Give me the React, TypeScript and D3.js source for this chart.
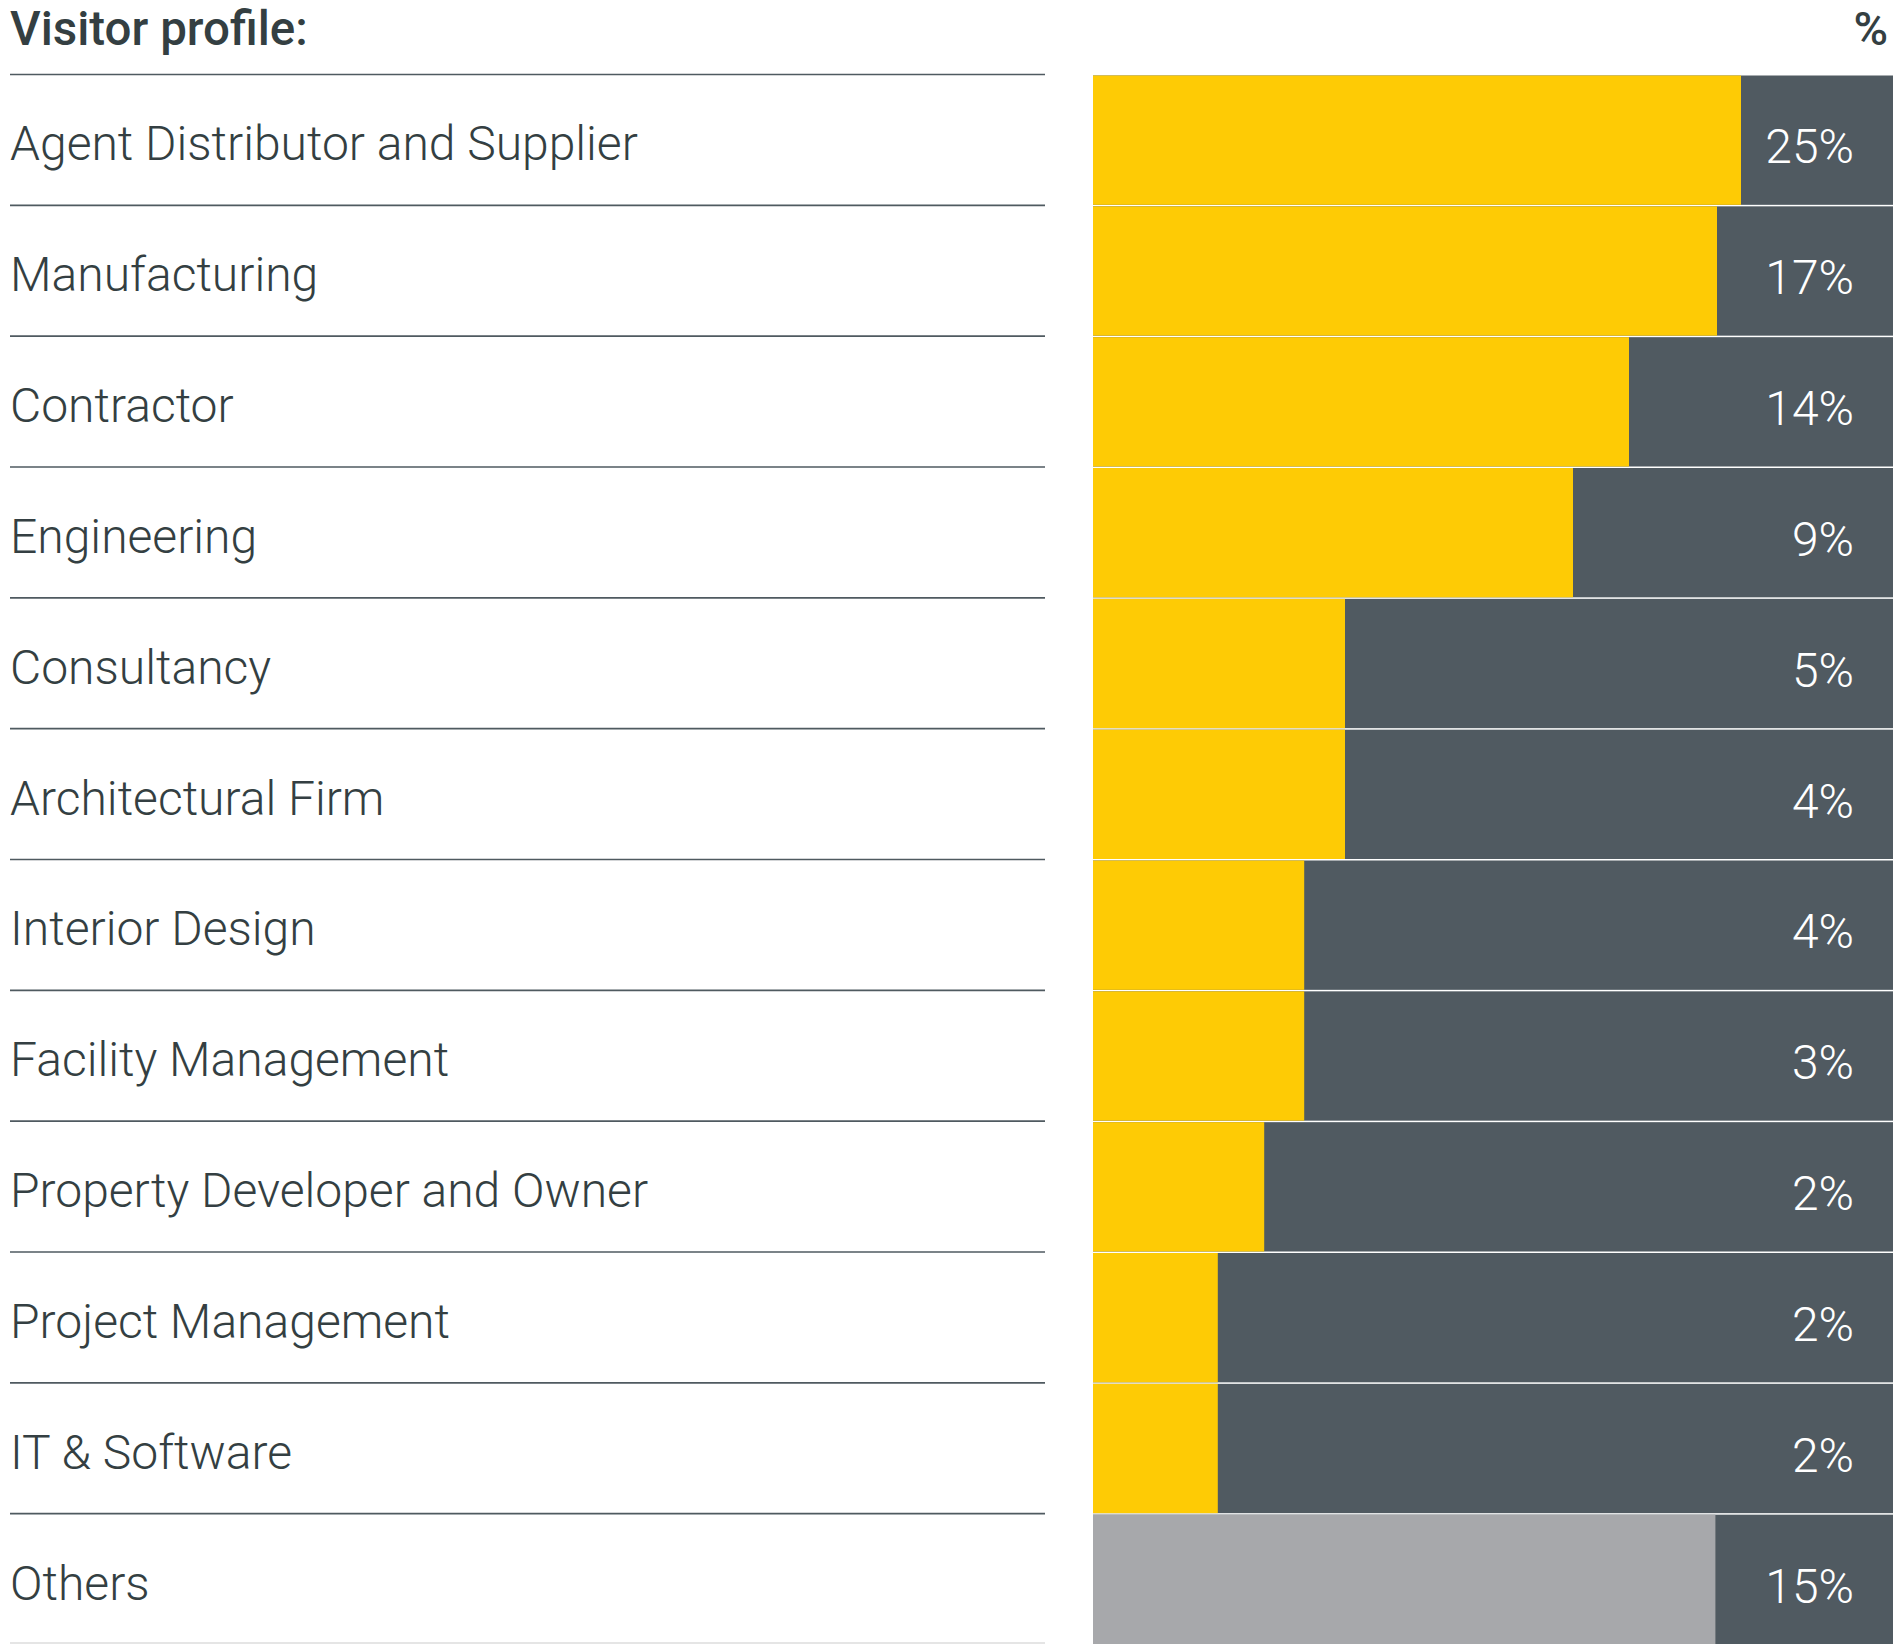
import React from "react";
import * as d3 from "d3";

// visitor categories, top to bottom
const categories = [
  "Agent Distributor and Supplier",
  "Manufacturing",
  "Contractor",
  "Engineering",
  "Consultancy",
  "Architectural Firm",
  "Interior Design",
  "Facility Management",
  "Property Developer and Owner",
  "Project Management",
  "IT & Software",
  "Others",
];

// share of visitors, as printed on the bars
const percents = [25, 17, 14, 9, 5, 4, 4, 3, 2, 2, 2, 15];

// length of the coloured part of each bar, as % of the track
const fills = [81.0, 78.0, 67.0, 60.0, 31.5, 31.5, 26.4, 26.4, 21.4, 15.6, 15.6, 77.8];

const W = 1895;
const H = 1644;
const FONT = "Roboto, 'Noto Sans', sans-serif";
const TEXT = "#343f42";
const YELLOW = "#fecb05";
const DARK = "#505a61";
const GREY = "#a7a8ab";

const App = () => {
  const margin = { top: 74.5, left: 10 };
  const labelRight = 1045;
  const trackLeft = 1093;
  const trackRight = 1893;

  const y = d3
    .scaleBand<string>()
    .domain(categories)
    .range([margin.top, H + 0.5])
    .paddingInner(0);

  const x = d3.scaleLinear().domain([0, 100]).range([trackLeft, trackRight]);

  const bh = y.bandwidth();

  return (
    <svg
      width={W}
      height={H}
      style={{ position: "absolute", left: 0, top: 0, background: "#fff" }}
    >
      {/* header */}
      <text
        x={margin.left}
        y={45}
        fontFamily={FONT}
        fontWeight={500}
        fontSize={47.5}
        fill={TEXT}
      >
        Visitor profile:
      </text>
      <text
        x={1888}
        y={45}
        textAnchor="end"
        fontFamily={FONT}
        fontWeight={500}
        fontSize={47}
        fill={TEXT}
      >
        %
      </text>

      {categories.map((c, i) => {
        const top = y(c) as number;
        const last = i === categories.length - 1;
        return (
          <g key={c}>
            {/* separator above the row */}
            <line
              x1={margin.left}
              x2={labelRight}
              y1={top}
              y2={top}
              stroke="#4f5a60"
              strokeWidth={1.6}
            />
            <text
              x={margin.left}
              y={top + bh / 2 + 20.5}
              fontFamily={FONT}
              fontWeight={300}
              fontSize={48}
              fill={TEXT}
            >
              {c}
            </text>

            {/* track + fill */}
            <rect
              x={x(0)}
              y={top + 1}
              width={x(100) - x(0)}
              height={bh - 1.5}
              fill={DARK}
            />
            <rect
              x={x(0)}
              y={top + 1}
              width={x(fills[i]) - x(0)}
              height={bh - 1.5}
              fill={last ? GREY : YELLOW}
            />
            <text
              x={1854}
              y={top + bh / 2 + 23.5}
              textAnchor="end"
              fontFamily={FONT}
              fontWeight={300}
              fontSize={48}
              fill="#fff"
            >
              {percents[i] + "%"}
            </text>

            {last && (
              <line
                x1={margin.left}
                x2={labelRight}
                y1={H - 1}
                y2={H - 1}
                stroke="#dcdcdc"
                strokeWidth={1.6}
              />
            )}
          </g>
        );
      })}
    </svg>
  );
};

export default App;
